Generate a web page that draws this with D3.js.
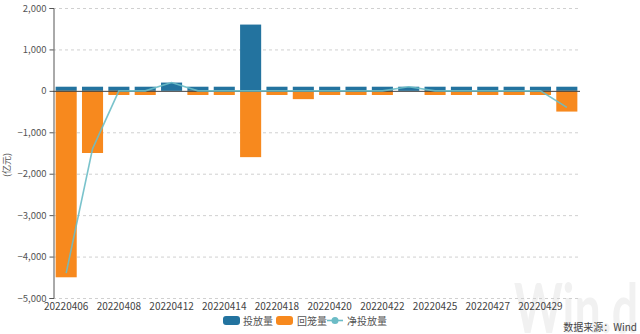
<!DOCTYPE html>
<html>
<head>
<meta charset="utf-8">
<script src="https://cdn.jsdelivr.net/npm/d3@7"></script>
<style>
  html, body { margin: 0; padding: 0; background: #fff; }
  svg { display: block; font-family: "Noto Sans CJK SC", "Noto Sans", sans-serif; }
</style>
</head>
<body>
<svg id="chart" width="640" height="334"></svg>
<script>
// Open market operations, April 2022 (100 million yuan)
const dates = ["20220406","20220407","20220408","20220411","20220412","20220413","20220414","20220415",
               "20220418","20220419","20220420","20220421","20220422","20220424","20220425","20220426",
               "20220427","20220428","20220429","20220505"];
const injection = [100,100,100,100,200,100,100,1600,100,100,100,100,100,100,100,100,100,100,100,100];
const maturity  = [-4500,-1500,-100,-100,0,-100,-100,-1600,-100,-200,-100,-100,-100,0,-100,-100,-100,-100,-100,-500];
const netInjection = [-4400,-1400,0,0,200,0,0,0,0,0,0,0,0,100,0,0,0,0,0,-400];
const yTicks = [-5000,-4000,-3000,-2000,-1000,0,1000,2000];
const seriesNames = ["投放量","回笼量","净投放量"];

const colors = { inj: "#23739f", mat: "#f7891e", net: "#6cbcc6" };

const svg = d3.select("#chart");
const plot = { left: 53, right: 580, top: 8, bottom: 298 };

const x = d3.scaleBand().domain(dates).range([plot.left, plot.right]).paddingInner(0.2).paddingOuter(0.1);
const y = d3.scaleLinear().domain([-5000, 2000]).range([plot.bottom, plot.top]);

// watermark
svg.append("text").attr("x", 514).attr("y", 333)
  .attr("font-family", "Lato, 'Open Sans', sans-serif").attr("font-weight", 700)
  .attr("font-size", 68).attr("textLength", 124).attr("lengthAdjust", "spacingAndGlyphs")
  .attr("fill", "#f1f1f1").text("Win.d");

// horizontal grid
svg.append("g").selectAll("line").data(yTicks.filter(d => d !== 0)).join("line")
  .attr("x1", plot.left).attr("x2", plot.right)
  .attr("y1", d => y(d) + 0.5).attr("y2", d => y(d) + 0.5)
  .attr("stroke", "#d0d0d0").attr("stroke-dasharray", "3,3");

// y axis
const yAxis = svg.append("g").attr("transform", `translate(${plot.left + 0.5},0)`)
  .call(d3.axisLeft(y).tickValues(yTicks).tickSize(4).tickPadding(3).tickFormat(d3.format(",")));
yAxis.select(".domain").attr("stroke", "#555");
yAxis.selectAll(".tick line").attr("stroke", "#555");
yAxis.selectAll("text").attr("fill", "#555").attr("font-size", 9.5)
  .attr("font-family", "'Noto Sans CJK SC', sans-serif");

// unit label
svg.append("text").attr("transform", "translate(10,165) rotate(-90)")
  .attr("text-anchor", "middle").attr("font-size", 9).attr("fill", "#555").text("(亿元)");

// bars
svg.append("g").selectAll("rect").data(injection).join("rect")
  .attr("x", (d, i) => x(dates[i])).attr("width", x.bandwidth())
  .attr("y", d => y(d)).attr("height", d => y(0) - y(d))
  .attr("fill", colors.inj);
svg.append("g").selectAll("rect").data(maturity).join("rect")
  .attr("x", (d, i) => x(dates[i])).attr("width", x.bandwidth())
  .attr("y", y(0)).attr("height", d => y(d) - y(0))
  .attr("fill", colors.mat);

// zero line
svg.append("line").attr("x1", plot.left).attr("x2", plot.right)
  .attr("y1", y(0) + 0.5).attr("y2", y(0) + 0.5).attr("stroke", "#444");

// net injection line
svg.append("path").datum(netInjection)
  .attr("d", d3.line().x((d, i) => x(dates[i]) + x.bandwidth() / 2).y(d => y(d)))
  .attr("fill", "none").attr("stroke", colors.net).attr("stroke-width", 1.6).attr("opacity", 0.9);

// x labels (every other category)
svg.append("g").selectAll("text").data(dates.filter((d, i) => i % 2 === 0 && i < 19)).join("text")
  .attr("x", d => x(d) + x.bandwidth() / 2).attr("y", 310)
  .attr("text-anchor", "middle").attr("font-size", 10).attr("fill", "#444").text(d => d);

// legend
const lg = svg.append("g").attr("font-size", 10).attr("fill", "#555");
lg.append("rect").attr("x", 223).attr("y", 316).attr("width", 17).attr("height", 9).attr("rx", 3).attr("fill", colors.inj);
lg.append("text").attr("x", 243).attr("y", 324.5).attr("fill", "#555").text(seriesNames[0]);
lg.append("rect").attr("x", 276).attr("y", 316).attr("width", 17).attr("height", 9).attr("rx", 3).attr("fill", colors.mat);
lg.append("text").attr("x", 297).attr("y", 324.5).attr("fill", "#555").text(seriesNames[1]);
lg.append("line").attr("x1", 327).attr("x2", 343).attr("y1", 320.5).attr("y2", 320.5).attr("stroke", colors.net).attr("stroke-width", 1.6);
lg.append("circle").attr("cx", 335).attr("cy", 320.5).attr("r", 3.5).attr("fill", colors.net);
lg.append("text").attr("x", 347).attr("y", 324.5).attr("fill", "#555").text(seriesNames[2]);

// source note
svg.append("text").attr("x", 637).attr("y", 331).attr("text-anchor", "end")
  .attr("font-size", 10).attr("fill", "#444").text("数据来源：Wind");
</script>
</body>
</html>
